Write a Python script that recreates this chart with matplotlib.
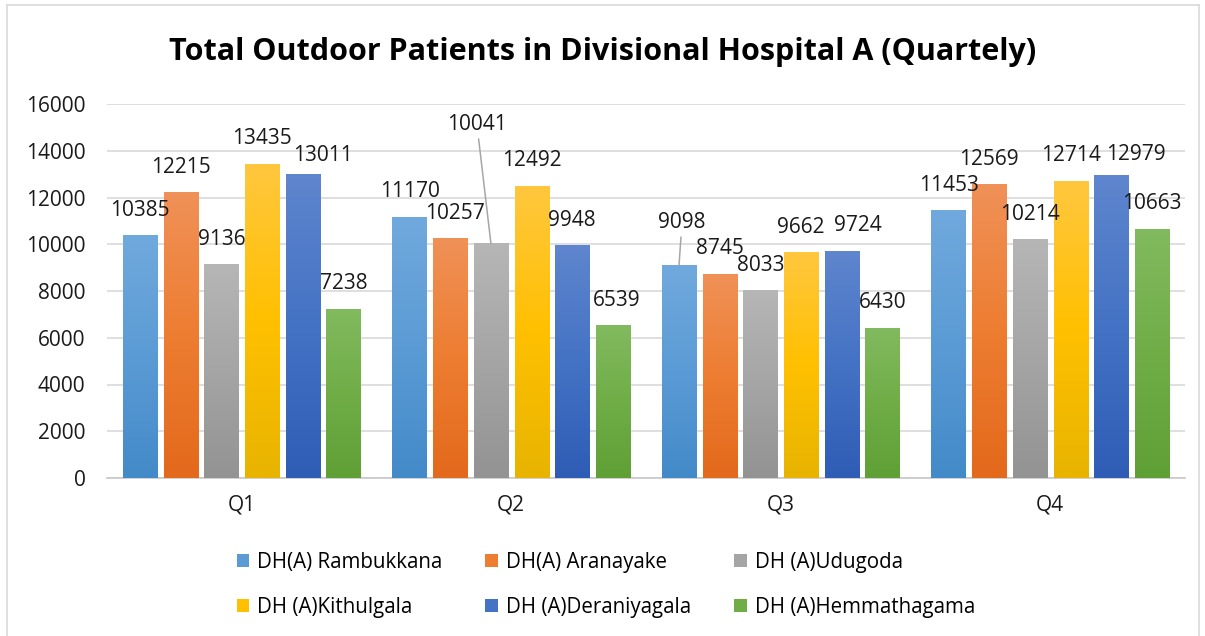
import numpy as np
import matplotlib
matplotlib.use("Agg")
import matplotlib.pyplot as plt
from matplotlib.colors import LinearSegmentedColormap
from matplotlib.patches import Patch
from matplotlib.lines import Line2D

plt.rcParams["font.family"] = ["Open Sans", "DejaVu Sans"]

# ── data ──────────────────────────────────────────────────────────────────────
quarters = ["Q1", "Q2", "Q3", "Q4"]
hospitals = ["DH(A) Rambukkana", "DH(A) Aranayake", "DH (A)Udugoda",
             "DH (A)Kithulgala", "DH (A)Deraniyagala", "DH (A)Hemmathagama"]
rambukkana   = [10385, 11170, 9098, 11453]
aranayake    = [12215, 10257, 8745, 12569]
udugoda      = [9136, 10041, 8033, 10214]
kithulgala   = [13435, 12492, 9662, 12714]
deraniyagala = [13011, 9948, 9724, 12979]
hemmathagama = [7238, 6539, 6430, 10663]
series = [rambukkana, aranayake, udugoda, kithulgala, deraniyagala, hemmathagama]

# top / middle / bottom gradient stops per series
shades = [
    ("#70A9DD", "#5B9BD5", "#438AC9"),
    ("#F09158", "#ED7D31", "#E3691C"),
    ("#B6B6B6", "#A5A5A5", "#939393"),
    ("#FFC73F", "#FFC000", "#E8B400"),
    ("#5F86CE", "#4472C4", "#2F5DB6"),
    ("#82BA5F", "#70AD47", "#5FA036"),
]

# label nudges in pixels (dx, dy), and which labels get leader lines
nudge = {(4, 0): (20, -7), (1, 1): (5, 0), (2, 1): (-14, 94),
         (0, 2): (3, 18), (4, 2): (16, 0), (4, 3): (25, -5), (5, 1): (4, 0)}
leaders = {(2, 1), (0, 2)}

# ── figure ────────────────────────────────────────────────────────────────────
fig = plt.figure(figsize=(12.05, 6.36), dpi=100)
ax = fig.add_axes([107/1205, 1-478/636, (1185-107)/1205, (478-104)/636])

# chart border
W, H = 1205, 636
for xs, ys in [((7, 7), (5, H)), ((7, 1199), (5, 5)), ((1199, 1199), (5, H))]:
    fig.add_artist(Line2D([x/W for x in xs], [1-y/H for y in ys],
                          color="#D9D9D9", lw=1.2, transform=fig.transFigure))

x = np.arange(len(quarters))
step, width = 0.151, 0.1265
grad = np.linspace(0, 1, 256).reshape(-1, 1)

for i, (vals, (c_top, c_mid, c_bot)) in enumerate(zip(series, shades)):
    pos = x + (i - 2.5) * step
    bars = ax.bar(pos, vals, width, color=c_mid, zorder=2, label=hospitals[i])
    cmap = LinearSegmentedColormap.from_list(f"g{i}", [c_bot, c_mid, c_top])
    for j, b in enumerate(bars):
        x0, h = b.get_x(), b.get_height()
        im = ax.imshow(grad, extent=[x0, x0 + b.get_width(), 0, h], origin="lower",
                       cmap=cmap, aspect="auto", zorder=3)
        im.set_clip_path(b)
        dx, dy = nudge.get((i, j), (0, 0))
        kw = {}
        if (i, j) in leaders:
            kw["arrowprops"] = dict(arrowstyle="-", color="#A6A6A6", lw=1.1,
                                    shrinkA=1, shrinkB=0)
        ax.annotate(str(vals[j]), xy=(pos[j], h), xytext=(dx, 25 + dy),
                    textcoords="offset pixels", ha="center", va="center",
                    fontsize=15, color="#1A1A1A", zorder=5, **kw)

ax.set_xlim(-0.5, len(quarters) - 0.5)
ax.set_ylim(0, 16000)
ax.set_yticks(range(0, 16001, 2000))
ax.set_xticks(x)
ax.set_xticklabels(quarters)
ax.grid(axis="y", color="#D9D9D9", lw=1.2, zorder=0)
ax.set_axisbelow(True)
for s in ["top", "right", "left"]:
    ax.spines[s].set_visible(False)
ax.spines["bottom"].set_color("#C8C8C8")
ax.spines["bottom"].set_linewidth(1.2)
ax.tick_params(axis="both", length=0, labelsize=15, labelcolor="#1A1A1A")
ax.tick_params(axis="y", pad=15.5)
ax.tick_params(axis="x", pad=12)

fig.text(0.5, 1-52/636, "Total Outdoor Patients in Divisional Hospital A (Quartely)",
         ha="center", va="center", fontsize=22, fontweight="bold", color="#000000")

# legend fills column by column, so reorder to read row by row
order = [0, 3, 1, 4, 2, 5]
handles = [Patch(facecolor=shades[k][1]) for k in order]
fig.legend(handles, [hospitals[k] for k in order], ncol=3, loc="center left",
           bbox_to_anchor=(218/1205, 1-585/636), frameon=False, fontsize=14.8,
           handlelength=0.6, handleheight=0.6, handletextpad=0.4,
           columnspacing=2.1, labelspacing=1.15)

fig.savefig("out.png", dpi=100)
